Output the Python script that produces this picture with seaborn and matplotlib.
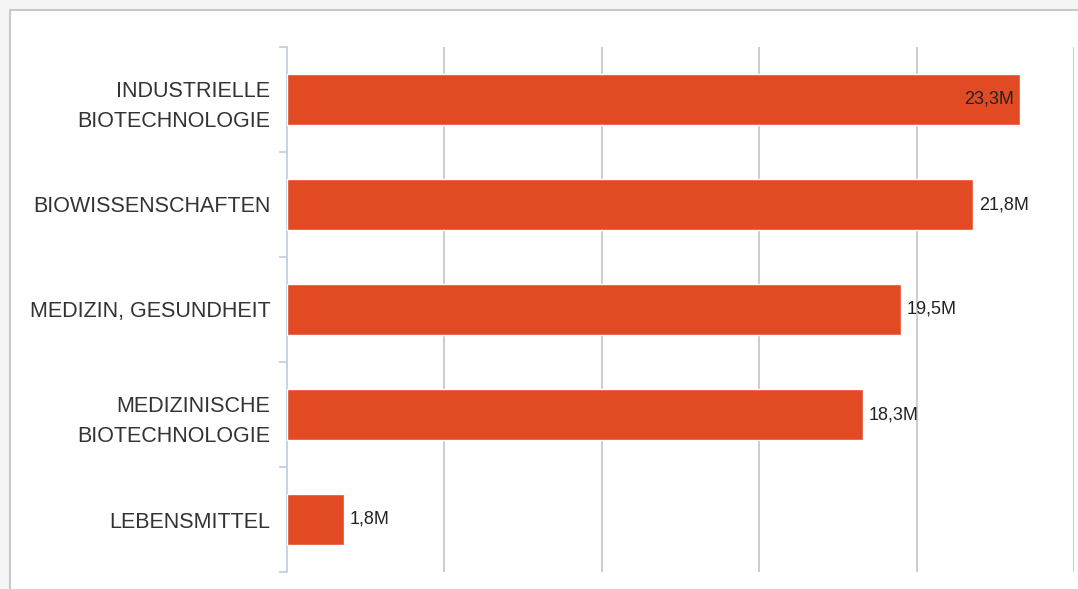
import matplotlib
matplotlib.use("Agg")
import matplotlib.pyplot as plt
import seaborn as sns
import pandas as pd
from matplotlib.patches import Rectangle
from matplotlib.ticker import MultipleLocator

categories = ["INDUSTRIELLE\nBIOTECHNOLOGIE", "BIOWISSENSCHAFTEN", "MEDIZIN, GESUNDHEIT",
              "MEDIZINISCHE\nBIOTECHNOLOGIE", "LEBENSMITTEL"]
values = [23.3, 21.8, 19.5, 18.3, 1.8]
labels = ["23,3M", "21,8M", "19,5M", "18,3M", "1,8M"]

df = pd.DataFrame({"cat": categories, "val": values})

sns.set_style("white")
plt.rcParams["font.family"] = ["Liberation Sans", "DejaVu Sans"]

fig = plt.figure(figsize=(10.78, 5.89), dpi=100)
fig.patch.set_facecolor("#f5f5f5")
# white panel with grey frame on top/left
fig.add_artist(Rectangle((9.5 / 1078, 0), 1, 1 - 9.5 / 589, transform=fig.transFigure,
                         facecolor="white", edgecolor="none", zorder=-10))
fig.add_artist(plt.Line2D([9.5 / 1078, 9.5 / 1078], [0, 1 - 9.5 / 589], transform=fig.transFigure,
                          color="#c8c8c8", lw=1.5, zorder=-5))
fig.add_artist(plt.Line2D([9.5 / 1078, 1], [1 - 9.5 / 589, 1 - 9.5 / 589], transform=fig.transFigure,
                          color="#c8c8c8", lw=1.5, zorder=-5))

ax = fig.add_axes([287 / 1078, 1 - 572 / 589, (1074 - 287) / 1078, (572 - 47) / 589])
ax.set_zorder(1)
ax.patch.set_alpha(0)
sns.barplot(data=df, x="val", y="cat", orient="h", color="#e24a24", saturation=1,
            width=0.49, ax=ax, zorder=3)

ax.set_xlim(0, 25)
ax.set_ylim(4.5, -0.5)
ax.xaxis.set_major_locator(MultipleLocator(5))
ax.grid(axis="x", color="#cccccc", lw=1.4, zorder=0)
ax.set_xticklabels([])
ax.tick_params(axis="x", length=0)
ax.set_xlabel("")
ax.set_ylabel("")

for s in ["top", "right", "bottom"]:
    ax.spines[s].set_visible(False)
ax.spines["left"].set_color("#c5d4e6")
ax.spines["left"].set_linewidth(1.4)

ax.set_yticks(range(len(categories)))
ax.set_yticklabels(categories, fontsize=15.5, color="#333333", linespacing=1.55)
ax.tick_params(axis="y", which="major", left=True, length=0, pad=12)
ax.set_yticks([i - 0.5 for i in range(len(categories) + 1)], minor=True)
ax.tick_params(axis="y", which="minor", left=True, length=6, width=1.4, color="#c5d4e6")

for i, (v, t) in enumerate(zip(values, labels)):
    if v > 22.5:
        ax.annotate(t, (v, i), xytext=(-5, 0), textcoords="offset points",
                    ha="right", va="center", fontsize=13, color="#222222", zorder=5)
    else:
        ax.annotate(t, (v, i), xytext=(4, 0), textcoords="offset points",
                    ha="left", va="center", fontsize=13, color="#222222", zorder=5)

fig.savefig("out.png", dpi=100, facecolor=fig.get_facecolor())
